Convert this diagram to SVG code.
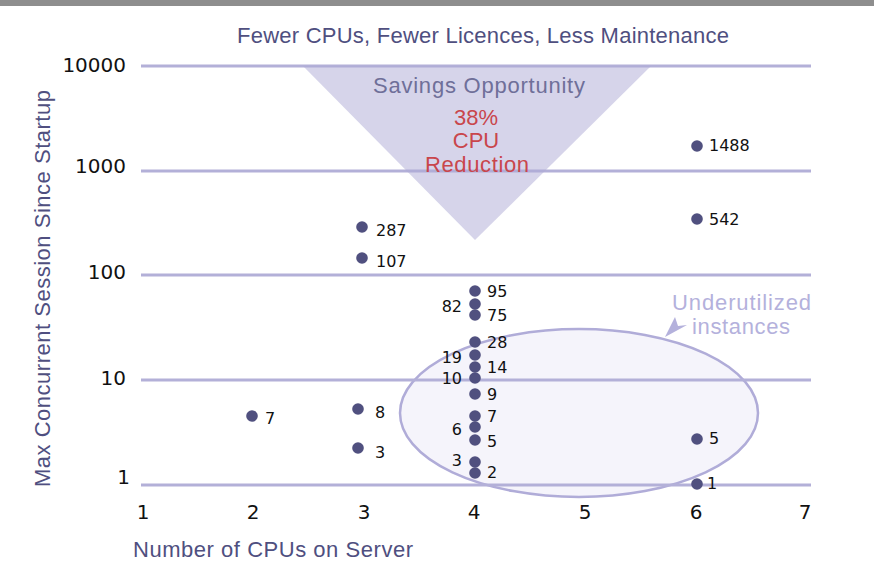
<svg xmlns="http://www.w3.org/2000/svg" width="874" height="587" viewBox="0 0 874 587">
  <style>
    .grid { stroke: #b3b0d8; stroke-width: 3; }
    .tick { font-family: "DejaVu Sans", sans-serif; font-size: 20px; fill: #111; }
    .axis { font-family: "Liberation Sans", Arial, sans-serif; font-size: 22px; fill: #4f4f80; }
    .dot { fill: #50507f; }
    .val { font-family: "DejaVu Sans", sans-serif; font-size: 16px; fill: #111; }
    .save { font-family: "Liberation Sans", Arial, sans-serif; font-size: 22px; text-anchor: middle; }
    .note { font-family: "Liberation Sans", Arial, sans-serif; font-size: 22px; fill: #b4b1dc; }
  </style>

  <rect x="0" y="0" width="874" height="587" fill="#ffffff"/>
  <!-- header strip -->
  <rect x="0" y="0" width="874" height="6" fill="#8e8e8e"/>

  <!-- underutilized region (fill) -->
  <g id="underutilized-region">
    <ellipse cx="579" cy="413" rx="179" ry="84" fill="#f5f4fb" stroke="#b0acd8" stroke-width="2.5"/>
  </g>

  <!-- gridlines -->
  <g id="grid">
    <line class="grid" x1="141" y1="66" x2="811" y2="66"/>
    <line class="grid" x1="141" y1="171" x2="811" y2="171"/>
    <line class="grid" x1="141" y1="275" x2="811" y2="275"/>
    <line class="grid" x1="141" y1="380" x2="811" y2="380"/>
    <line class="grid" x1="141" y1="485" x2="811" y2="485"/>
  </g>

  <!-- savings wedge -->
  <g id="savings">
    <polygon points="303,66 651,66 475,240" fill="#aeaad6" fill-opacity="0.5"/>
    <text class="save" x="479" y="93" fill="#6f6f99" textLength="212">Savings Opportunity</text>
    <text class="save" x="476" y="125" fill="#c9464c">38%</text>
    <text class="save" x="476" y="148" fill="#c9464c">CPU</text>
    <text class="save" x="477" y="172" fill="#c9464c" textLength="104">Reduction</text>
  </g>

  <!-- title -->
  <text class="axis" x="237" y="43" textLength="492">Fewer CPUs, Fewer Licences, Less Maintenance</text>

  <!-- y axis -->
  <g id="y-axis">
    <text class="tick" x="126" y="72" text-anchor="end">10000</text>
    <text class="tick" x="126" y="173" text-anchor="end">1000</text>
    <text class="tick" x="126" y="279" text-anchor="end">100</text>
    <text class="tick" x="126" y="385" text-anchor="end">10</text>
    <text class="tick" x="130" y="484" text-anchor="end">1</text>
    <text class="axis" transform="translate(50,487) rotate(-90)" x="0" y="0" textLength="397">Max Concurrent Session Since Startup</text>
  </g>

  <!-- x axis -->
  <g id="x-axis" text-anchor="middle">
    <text class="tick" x="143" y="519">1</text>
    <text class="tick" x="253" y="519">2</text>
    <text class="tick" x="364" y="519">3</text>
    <text class="tick" x="474" y="519">4</text>
    <text class="tick" x="585" y="519">5</text>
    <text class="tick" x="696" y="519">6</text>
    <text class="tick" x="805" y="519">7</text>
    <text class="axis" x="133" y="557" text-anchor="start" textLength="280">Number of CPUs on Server</text>
  </g>

  <!-- underutilized callout -->
  <g id="underutilized-label">
    <text class="note" x="672" y="310" textLength="139">Underutilized</text>
    <text class="note" x="692" y="334" textLength="98">instances</text>
    <polygon points="665,337 675,317 678,326 687,325" fill="#b4b1dc"/>
  </g>

  <!-- data points -->
  <g id="points-2cpu">
    <circle class="dot" cx="252" cy="416" r="5.8"/>
    <text class="val" x="265" y="424">7</text>
  </g>

  <g id="points-3cpu">
    <circle class="dot" cx="362" cy="227" r="5.8"/>
    <text class="val" x="376" y="236">287</text>
    <circle class="dot" cx="362" cy="258" r="5.8"/>
    <text class="val" x="376" y="267">107</text>
    <circle class="dot" cx="358" cy="409" r="5.8"/>
    <text class="val" x="375" y="418">8</text>
    <circle class="dot" cx="358" cy="448" r="5.8"/>
    <text class="val" x="375" y="458">3</text>
  </g>

  <g id="points-4cpu">
    <circle class="dot" cx="475" cy="291" r="5.8"/>
    <circle class="dot" cx="475" cy="304" r="5.8"/>
    <circle class="dot" cx="475" cy="315" r="5.8"/>
    <circle class="dot" cx="475" cy="342" r="5.8"/>
    <circle class="dot" cx="475" cy="355" r="5.8"/>
    <circle class="dot" cx="475" cy="367" r="5.8"/>
    <circle class="dot" cx="475" cy="378" r="5.8"/>
    <circle class="dot" cx="475" cy="394" r="5.8"/>
    <circle class="dot" cx="475" cy="416" r="5.8"/>
    <circle class="dot" cx="475" cy="427" r="5.8"/>
    <circle class="dot" cx="475" cy="440" r="5.8"/>
    <circle class="dot" cx="475" cy="462" r="5.8"/>
    <circle class="dot" cx="475" cy="473" r="5.8"/>
    <text class="val" x="487" y="297">95</text>
    <text class="val" x="462" y="312" text-anchor="end">82</text>
    <text class="val" x="487" y="321">75</text>
    <text class="val" x="487" y="348">28</text>
    <text class="val" x="462" y="363" text-anchor="end">19</text>
    <text class="val" x="487" y="373">14</text>
    <text class="val" x="462" y="384" text-anchor="end">10</text>
    <text class="val" x="487" y="400">9</text>
    <text class="val" x="487" y="422">7</text>
    <text class="val" x="462" y="435" text-anchor="end">6</text>
    <text class="val" x="487" y="447">5</text>
    <text class="val" x="462" y="466" text-anchor="end">3</text>
    <text class="val" x="487" y="478">2</text>
  </g>

  <g id="points-6cpu">
    <circle class="dot" cx="697" cy="146" r="5.8"/>
    <text class="val" x="709" y="151">1488</text>
    <circle class="dot" cx="697" cy="219" r="5.8"/>
    <text class="val" x="709" y="225">542</text>
    <circle class="dot" cx="697" cy="439" r="5.8"/>
    <text class="val" x="709" y="444">5</text>
    <circle class="dot" cx="697" cy="484" r="5.8"/>
    <text class="val" x="707" y="489">1</text>
  </g>
</svg>
